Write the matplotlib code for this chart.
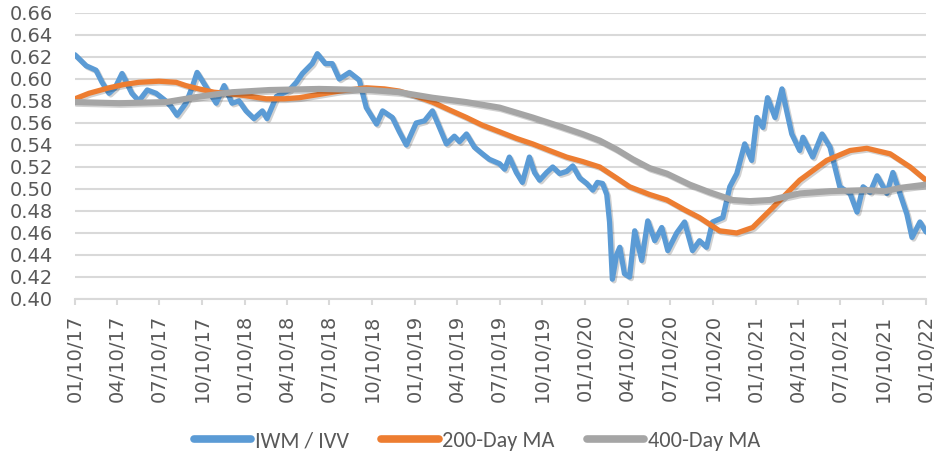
import matplotlib
matplotlib.use("Agg")
import matplotlib.pyplot as plt
import matplotlib.dates as mdates
import matplotlib.patheffects as pe
import pandas as pd

plt.rcParams["font.family"] = ["DejaVu Sans"]

# IWM / IVV ratio
ratio_dates = [
    "2017-01-10", "2017-02-03", "2017-02-24", "2017-03-09", "2017-03-24", "2017-04-06",
    "2017-04-21", "2017-05-12", "2017-05-27", "2017-06-14", "2017-07-03", "2017-07-24",
    "2017-08-04", "2017-08-17", "2017-09-05", "2017-09-18", "2017-09-29", "2017-10-18",
    "2017-11-09", "2017-11-26", "2017-12-13", "2017-12-28", "2018-01-12", "2018-01-29",
    "2018-02-16", "2018-02-26", "2018-03-18", "2018-04-15", "2018-04-30", "2018-05-13",
    "2018-06-03", "2018-06-14", "2018-07-01", "2018-07-16", "2018-07-31", "2018-08-22",
    "2018-09-12", "2018-09-27", "2018-10-19", "2018-11-01", "2018-11-22", "2018-12-07",
    "2018-12-22", "2019-01-12", "2019-01-30", "2019-02-16", "2019-03-03", "2019-03-18",
    "2019-04-04", "2019-04-15", "2019-04-30", "2019-05-17", "2019-06-03", "2019-06-18",
    "2019-07-10", "2019-07-21", "2019-07-31", "2019-08-15", "2019-08-28", "2019-09-12",
    "2019-09-23", "2019-10-04", "2019-10-19", "2019-11-01", "2019-11-16", "2019-12-01",
    "2019-12-14", "2019-12-29", "2020-01-13", "2020-01-26", "2020-02-05", "2020-02-16",
    "2020-02-25", "2020-03-02", "2020-03-08", "2020-03-17", "2020-03-24", "2020-04-03",
    "2020-04-14", "2020-04-25", "2020-05-10", "2020-05-23", "2020-06-07", "2020-06-22",
    "2020-07-05", "2020-07-24", "2020-08-10", "2020-08-27", "2020-09-11", "2020-09-26",
    "2020-10-09", "2020-10-31", "2020-11-15", "2020-11-30", "2020-12-17", "2021-01-01",
    "2021-01-12", "2021-01-25", "2021-02-04", "2021-02-20", "2021-03-07", "2021-03-17",
    "2021-03-28", "2021-04-14", "2021-04-21", "2021-05-12", "2021-06-01", "2021-06-18",
    "2021-07-09", "2021-07-31", "2021-08-15", "2021-08-28", "2021-09-12", "2021-09-27",
    "2021-10-18", "2021-10-31", "2021-11-15", "2021-11-30", "2021-12-11", "2021-12-28",
    "2022-01-10",
]
ratio_values = [
    0.622, 0.612, 0.608, 0.597, 0.587, 0.592,
    0.605, 0.587, 0.580, 0.590, 0.587, 0.580,
    0.575, 0.567, 0.578, 0.592, 0.606, 0.593,
    0.578, 0.594, 0.578, 0.580, 0.571, 0.564,
    0.571, 0.564, 0.584, 0.590, 0.597, 0.605,
    0.614, 0.623, 0.614, 0.614, 0.600, 0.606,
    0.599, 0.574, 0.559, 0.571, 0.565, 0.552,
    0.540, 0.560, 0.562, 0.571, 0.556, 0.541,
    0.548, 0.543, 0.550, 0.538, 0.532, 0.527,
    0.523, 0.518, 0.529, 0.515, 0.506, 0.529,
    0.515, 0.508, 0.515, 0.520, 0.514, 0.516,
    0.521, 0.510, 0.505, 0.499, 0.506, 0.505,
    0.495, 0.470, 0.418, 0.440, 0.447, 0.423,
    0.420, 0.462, 0.435, 0.471, 0.453, 0.465,
    0.444, 0.460, 0.470, 0.444, 0.453, 0.447,
    0.470, 0.474, 0.502, 0.514, 0.541, 0.526,
    0.565, 0.556, 0.583, 0.565, 0.591, 0.571,
    0.550, 0.535, 0.547, 0.529, 0.550, 0.538,
    0.502, 0.496, 0.479, 0.502, 0.497, 0.512,
    0.496, 0.515, 0.496, 0.477, 0.456, 0.470,
    0.461,
]

ma200_dates = [
    "2017-01-10", "2017-02-09", "2017-03-24", "2017-04-25", "2017-05-27", "2017-07-09",
    "2017-08-15", "2017-09-05", "2017-10-03", "2017-11-04", "2017-11-30", "2018-01-08",
    "2018-02-24", "2018-04-04", "2018-05-06", "2018-06-18", "2018-07-31", "2018-09-27",
    "2018-11-05", "2018-12-07", "2019-01-08", "2019-02-16", "2019-03-24", "2019-04-30",
    "2019-06-03", "2019-07-10", "2019-08-15", "2019-09-19", "2019-10-25", "2019-12-01",
    "2020-01-04", "2020-02-10", "2020-03-17", "2020-04-14", "2020-05-27", "2020-07-03",
    "2020-08-10", "2020-09-11", "2020-10-24", "2020-11-30", "2021-01-03", "2021-02-15",
    "2021-04-14", "2021-06-11", "2021-07-31", "2021-09-05", "2021-10-25", "2021-12-07",
    "2022-01-10",
]
ma200_values = [
    0.582, 0.587, 0.592, 0.595, 0.597, 0.598,
    0.597, 0.594, 0.591, 0.588, 0.587, 0.585,
    0.582, 0.582, 0.583, 0.586, 0.589, 0.592,
    0.591, 0.589, 0.585, 0.579, 0.572, 0.565,
    0.558, 0.552, 0.546, 0.541, 0.535, 0.529,
    0.525, 0.520, 0.510, 0.502, 0.495, 0.490,
    0.481, 0.474, 0.462, 0.460, 0.465, 0.483,
    0.508, 0.526, 0.535, 0.537, 0.532, 0.520,
    0.508,
]

ma400_dates = [
    "2017-01-10", "2017-04-15", "2017-07-24", "2017-10-03", "2017-12-13", "2018-03-03",
    "2018-06-18", "2018-10-04", "2018-12-07", "2019-02-16", "2019-04-30", "2019-07-10",
    "2019-09-19", "2019-11-16", "2020-01-04", "2020-02-10", "2020-03-17", "2020-04-21",
    "2020-05-27", "2020-07-03", "2020-08-21", "2020-10-03", "2020-11-21", "2020-12-28",
    "2021-02-09", "2021-04-14", "2021-06-18", "2021-09-05", "2021-10-14", "2021-11-15",
    "2022-01-10",
]
ma400_values = [
    0.579, 0.578, 0.579, 0.584, 0.588, 0.590,
    0.591, 0.590, 0.588, 0.583, 0.579, 0.574,
    0.565, 0.557, 0.550, 0.544, 0.536, 0.527,
    0.519, 0.514, 0.504, 0.497, 0.490, 0.489,
    0.490, 0.496, 0.498, 0.499, 0.498, 0.501,
    0.504,
]

# quarterly ticks on the 10th
tick_dates = pd.date_range("2017-01-01", "2022-01-01", freq="3MS") + pd.Timedelta(days=9)

fig = plt.figure(figsize=(9.35, 4.59), dpi=100)
ax = fig.add_axes([75 / 935, 1 - 299 / 459, 851 / 935, 286 / 459])

shadow = [pe.SimpleLineShadow(offset=(1.2, -1.2), alpha=0.18, shadow_color="black"), pe.Normal()]

ax.plot(pd.to_datetime(ratio_dates), ratio_values, color="#5B9BD5", lw=3.8,
        solid_joinstyle="round", solid_capstyle="round", label="IWM / IVV", path_effects=shadow)
ax.plot(pd.to_datetime(ma200_dates), ma200_values, color="#ED7D31", lw=3.8,
        solid_joinstyle="round", solid_capstyle="round", label="200-Day MA", path_effects=shadow)
ax.plot(pd.to_datetime(ma400_dates), ma400_values, color="#A5A5A5", lw=4.4,
        solid_joinstyle="round", solid_capstyle="round", label="400-Day MA", path_effects=shadow)

ax.set_ylim(0.40, 0.66)
ax.set_yticks([0.40 + 0.02 * i for i in range(14)])
ax.yaxis.set_major_formatter(plt.FuncFormatter(lambda v, p: f"{v:.2f}"))
ax.set_xlim(pd.Timestamp("2017-01-10"), pd.Timestamp("2022-01-10"))
ax.set_xticks(tick_dates)
ax.xaxis.set_major_formatter(mdates.DateFormatter("%m/%d/%y"))

ax.grid(axis="y", color="#D9D9D9", lw=1.5)
ax.set_axisbelow(True)
for s in ["top", "right", "left"]:
    ax.spines[s].set_visible(False)
ax.spines["bottom"].set_color("#D9D9D9")
ax.spines["bottom"].set_linewidth(1.5)

ax.tick_params(axis="y", length=0, pad=16, labelsize=14, labelcolor="#595959")
ax.tick_params(axis="x", length=4, width=1.5, color="#D9D9D9", pad=7,
               labelsize=14, labelcolor="#595959", labelrotation=90)

leg = fig.legend(loc="center", bbox_to_anchor=(0.51, 1 - 441 / 459), ncol=3, frameon=False,
                 handlelength=2.6, handletextpad=0.15, columnspacing=1.45,
                 prop={"family": ["Carlito", "DejaVu Sans"], "size": 16})
for t in leg.get_texts():
    t.set_color("#595959")
for h in leg.get_lines():
    h.set_linewidth(5.5)
    h.set_solid_capstyle("round")
    h.set_path_effects([])

fig.savefig("out.png", dpi=100)
